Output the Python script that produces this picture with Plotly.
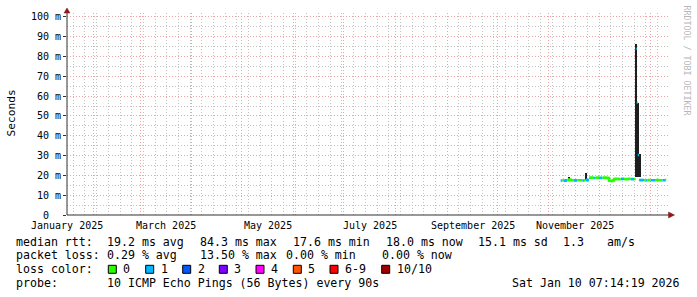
import plotly.graph_objects as go
import pandas as pd

# ---------------- data ----------------
med_time = [
    "2025-11-08", "2025-11-09", "2025-11-10", "2025-11-11", "2025-11-12", "2025-11-13",
    "2025-11-14", "2025-11-15", "2025-11-16", "2025-11-17", "2025-11-18", "2025-11-19",
    "2025-11-20", "2025-11-21", "2025-11-22", "2025-11-23", "2025-11-24", "2025-11-25",
    "2025-11-26", "2025-11-27", "2025-11-28", "2025-11-29", "2025-11-30", "2025-12-01",
    "2025-12-02", "2025-12-03", "2025-12-04", "2025-12-05", "2025-12-06", "2025-12-07",
    "2025-12-08", "2025-12-09", "2025-12-10", "2025-12-11", "2025-12-12", "2025-12-13",
    "2025-12-14", "2025-12-15", "2025-12-16", "2025-12-17", "2025-12-18", "2025-12-19",
    "2025-12-20", "2025-12-21", "2025-12-22", "2025-12-23 00:00", "2025-12-23 14:00",
    "2025-12-24 05:00", "2025-12-25", "2025-12-26", "2025-12-27", "2025-12-28",
    "2025-12-29", "2025-12-30", "2025-12-31", "2026-01-01", "2026-01-02", "2026-01-03",
    "2026-01-04", "2026-01-05", "2026-01-06", "2026-01-07", "2026-01-08", "2026-01-09",
    "2026-01-10",
]
med_rtt_ms = [
    17.4, 17.5, 17.3, 17.5, 17.6, 17.9,
    17.5, 17.6, 17.4, 17.5, 17.6, 17.5,
    17.6, 17.4, 17.5, 17.8, 17.6, 18.8,
    18.9, 18.8, 18.7, 18.8, 18.9, 18.8,
    18.7, 18.8, 18.9, 18.8, 18.7, 17.3,
    17.2, 17.4, 18.2, 18.3, 18.2, 18.1,
    18.2, 18.3, 18.2, 18.1, 18.2, 18.3,
    18.2, 18.1, 18.2, 84.0, 56.7,
    30.3, 17.7, 17.6, 17.7, 17.6,
    17.5, 17.6, 17.7, 17.6, 17.5, 17.6,
    17.7, 17.6, 17.5, 17.6, 17.5, 17.6,
    18.0,
]
med_loss = [
    1, 0, 1, 1, 0, 0,
    0, 0, 1, 1, 0, 0,
    0, 1, 0, 1, 1, 0,
    0, 0, 1, 0, 0, 1,
    1, 0, 0, 0, 0, 0,
    0, 0, 0, 0, 0, 0,
    1, 1, 0, 0, 0, 0,
    1, 1, 0, 1, 1,
    1, 1, 1, 1, 0,
    1, 0, 0, 1, 1, 1,
    0, 0, 0, 0, 1, 1,
    0,
]
now_time = "2026-01-10 07:14:19"

smoke_time = ["2025-11-13 00:00", "2025-11-23 00:00", "2025-12-23 12:00",
              "2025-12-23 03:00", "2025-12-24 10:00", "2025-12-25 06:00"]
smoke_lo_ms = [17.6, 17.6, 56.5, 19.3, 19.3, 19.3]
smoke_hi_ms = [19.2, 21.2, 86.3, 56.5, 56.5, 30.8]
smoke_width_h = [14, 14, 26, 9, 9, 34]

loss_keys = ["0", "1", "2", "3", "4", "5", "6-9", "10/10"]
loss_colors = ["#26ff00", "#00b8ff", "#0059ff", "#7e00ff", "#ff00ff", "#ff5500", "#ff0000", "#a10000"]

month_starts = ["2025-02-01", "2025-03-01", "2025-04-01", "2025-05-01", "2025-06-01",
                "2025-07-01", "2025-08-01", "2025-09-01", "2025-10-01", "2025-11-01",
                "2025-12-01", "2026-01-01"]
label_dates = ["2025-01-16 12:00", "2025-03-16 12:00", "2025-05-16 12:00",
               "2025-07-16 12:00", "2025-09-16 12:00", "2025-11-16 12:00"]
label_text = ["January 2025", "March 2025", "May 2025", "July 2025",
              "September 2025", "November 2025"]
y_ticks = [0, 0.01, 0.02, 0.03, 0.04, 0.05, 0.06, 0.07, 0.08, 0.09, 0.10]
y_tick_text = ["0\u00a0\u00a0", "10 m", "20 m", "30 m", "40 m", "50 m",
               "60 m", "70 m", "80 m", "90 m", "100 m"]

rtt_stats = ["19.2 ms avg", "84.3 ms max", "17.6 ms min", "18.0 ms now", "15.1 ms sd", "1.3", "am/s"]
loss_stats = ["0.29 % avg", "13.50 % max", "0.00 % min", "0.00 % now"]
probe_text = "10 ICMP Echo Pings (56 Bytes) every 90s"
stamp_text = "Sat Jan 10 07:14:19 2026"

x_range = ["2025-01-16 05:45", "2026-01-11 08:00"]
y_range = [0, 0.102]

# ---------------- layout helpers ----------------
W, H = 697, 297
L, R, T, B = 67, 668, 13, 215
MONO = "DejaVu Sans Mono"


def px(p):
    return (p - L) / (R - L)


def py(p):
    return (B - p) / (B - T)


def loss_idx(n):
    if n <= 5:
        return n
    if n <= 9:
        return 6
    return 7


fig = go.Figure()

# smoke
fig.add_trace(go.Bar(
    x=smoke_time,
    y=[(h - l) / 1000 for l, h in zip(smoke_lo_ms, smoke_hi_ms)],
    base=[l / 1000 for l in smoke_lo_ms],
    width=[w * 3600000 for w in smoke_width_h],
    marker=dict(color="#1e1e1e", line=dict(width=0)),
    hoverinfo="skip", showlegend=False,
))

# median coloured by loss
t = [pd.Timestamp(s) for s in med_time]
ends = t[1:] + [pd.Timestamp(now_time)]
vals = [v / 1000 for v in med_rtt_ms]
cidx = [loss_idx(n) for n in med_loss]
runs = []
cur = [0]
for i in range(1, len(t)):
    if cidx[i] == cidx[cur[-1]] and abs(med_rtt_ms[i] - med_rtt_ms[cur[-1]]) < 5:
        cur.append(i)
    else:
        runs.append(cur)
        cur = [i]
runs.append(cur)

for k, col in enumerate(loss_colors):
    xs, ys = [], []
    for run in runs:
        if cidx[run[0]] != k:
            continue
        for j in run:
            xs.append(t[j])
            ys.append(vals[j])
        xs.append(ends[run[-1]])
        ys.append(vals[run[-1]])
        xs.append(None)
        ys.append(None)
    if xs:
        fig.add_trace(go.Scatter(x=xs, y=ys, mode="lines", line=dict(color=col, width=2.5, shape="hv"),
                                 connectgaps=False, hoverinfo="skip", showlegend=False))

MAJ = "#eda3a3"
MIN = "#c2c2c2"
DASH = "1px,2px"

fig.update_layout(
    width=W, height=H, autosize=False,
    margin=dict(l=L, r=W - R, t=T, b=H - B, pad=0),
    paper_bgcolor="white", plot_bgcolor="white",
    showlegend=False, bargap=0,
    font=dict(family=MONO, color="black"),
    xaxis=dict(type="date", range=x_range, tickmode="array", tickvals=month_starts,
               ticktext=[""] * len(month_starts), showgrid=True, gridcolor=MAJ, griddash=DASH,
               gridwidth=1, zeroline=False, showline=False, ticks="",
               minor=dict(dtick=7 * 86400000, tick0="2025-01-20", showgrid=True,
                          gridcolor=MIN, griddash=DASH, gridwidth=1, ticks="")),
    yaxis=dict(range=y_range, tickmode="array", tickvals=y_ticks, ticktext=y_tick_text,
               tickfont=dict(family=MONO, size=10, color="black"),
               showgrid=True, gridcolor=MAJ, griddash=DASH, gridwidth=1,
               zeroline=False, showline=False, ticks="outside", ticklen=3, tickcolor="#333333",
               minor=dict(dtick=0.005, tick0=0, showgrid=True, gridcolor=MIN, griddash=DASH,
                          gridwidth=1, ticks="")),
)

shapes = []
AX = "#303030"
ARW = "#8b1a1a"
shapes.append(dict(type="line", xref="paper", yref="paper", x0=px(67), x1=px(67), y0=py(215), y1=py(11),
                   line=dict(color=AX, width=1), layer="above"))
shapes.append(dict(type="line", xref="paper", yref="paper", x0=px(67), x1=px(670), y0=py(215), y1=py(215),
                   line=dict(color=AX, width=1), layer="above"))
shapes.append(dict(type="path", xref="paper", yref="paper",
                   path=f"M {px(67)},{py(8)} L {px(64)},{py(13)} L {px(70)},{py(13)} Z",
                   fillcolor=ARW, line=dict(color=ARW, width=0.5), layer="above"))
shapes.append(dict(type="path", xref="paper", yref="paper",
                   path=f"M {px(674.5)},{py(215)} L {px(668.5)},{py(212)} L {px(668.5)},{py(218)} Z",
                   fillcolor=ARW, line=dict(color=ARW, width=0.5), layer="above"))

ann = []


def text(s, x, y, size=11.6, anchor="left", color="black", angle=0):
    ann.append(dict(text=s, x=px(x), y=py(y), xref="paper", yref="paper", xanchor=anchor,
                    yanchor="middle", showarrow=False, borderpad=0, borderwidth=0, textangle=angle,
                    font=dict(family=MONO, size=size, color=color)))


# x labels
for d, s in zip(label_dates, label_text):
    ann.append(dict(text=s, x=d, y=0, xref="x", yref="paper", xanchor="center", yanchor="middle",
                    yshift=-10, showarrow=False, borderpad=0,
                    font=dict(family=MONO, size=10, color="black")))

text("Seconds", 10.5, 113, size=11.2, anchor="center", angle=-90)
text("RRDTOOL / TOBI OETIKER", 686.5, 60, size=8.3, anchor="center", color="#b8b8b8", angle=90)

y1, y2, y3, y4 = 241.7, 255.0, 269.3, 283.3
text("median rtt:", 16, y1)
for s, x in zip(rtt_stats, [107.3, 200.3, 292.7, 386, 478.3, 563.3, 607.3]):
    text(s, x, y1)
text("packet loss:", 16, y2)
for s, x in zip(loss_stats, [107.3, 200.3, 286, 381.7]):
    text(s, x, y2)
text("loss color:", 16, y3)
box_x = [108.3, 145.7, 182.7, 219.3, 256, 293.3, 330, 381.7]
for k, col, bx in zip(loss_keys, loss_colors, box_x):
    shapes.append(dict(type="rect", xref="paper", yref="paper", x0=px(bx), x1=px(bx + 8),
                       y0=py(273.3), y1=py(265.3), fillcolor=col, line=dict(color="black", width=1)))
    text(k, bx + 15, y3)
text("probe:", 16, y4)
text(probe_text, 107.3, y4)
text(stamp_text, 680, y4, anchor="right")

fig.update_layout(shapes=shapes, annotations=ann)
fig.write_html("out.html", config={"displayModeBar": False})
